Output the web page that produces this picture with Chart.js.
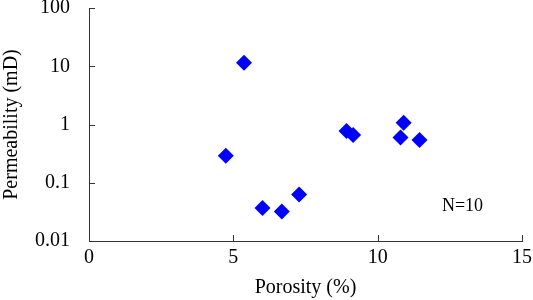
<!DOCTYPE html>
<html>
<head>
<meta charset="utf-8">
<script src="https://cdn.jsdelivr.net/npm/chart.js@4/dist/chart.umd.min.js"></script>
<style>
  html, body { margin: 0; padding: 0; background: #fff; }
  #wrap { width: 533px; height: 300px; }
</style>
</head>
<body>
<div id="wrap"><canvas id="c"></canvas></div>
<script>
// porosity (%) vs permeability (mD)
const porosity = [5.37, 4.74, 6.01, 6.68, 7.28, 8.92, 9.15, 10.9, 10.79, 11.45];
const permeability = [11.5, 0.29, 0.037, 0.032, 0.063, 0.77, 0.66, 1.07, 0.6, 0.54];
const xTicks = [0, 5, 10, 15];
const yTicks = [0.01, 0.1, 1, 10, 100];
const yTickLabels = ["0.01", "0.1", "1", "10", "100"];
const note = { text: "N=10", x: 12.94, y: 0.04 };

const FONT = "'Liberation Serif', 'Times New Roman', serif";
const AXIS = "#333";

// ticks are drawn on the inside of the axes, like the original
const insideTicks = {
    id: "insideTicks",
    afterDraw(chart) {
        const { ctx, chartArea, scales } = chart;
        ctx.save();
        ctx.strokeStyle = AXIS;
        ctx.lineWidth = 1;
        ctx.beginPath();
        xTicks.forEach(v => {
            const px = Math.round(scales.x.getPixelForValue(v)) + 0.5;
            ctx.moveTo(px, chartArea.bottom);
            ctx.lineTo(px, chartArea.bottom - 6);
        });
        yTicks.forEach(v => {
            const py = Math.round(scales.y.getPixelForValue(v)) + 0.5;
            ctx.moveTo(chartArea.left, py);
            ctx.lineTo(chartArea.left + 6, py);
        });
        ctx.stroke();

        ctx.fillStyle = "#000";
        ctx.font = "18px " + FONT;
        ctx.textAlign = "center";
        ctx.textBaseline = "middle";
        ctx.fillText(note.text, scales.x.getPixelForValue(note.x), scales.y.getPixelForValue(note.y));
        ctx.restore();
    }
};

new Chart(document.getElementById("c"), {
    type: "scatter",
    data: {
        datasets: [{
            data: porosity.map((x, i) => ({ x, y: permeability[i] })),
            pointStyle: "rectRot",
            pointRadius: 8,
            pointHoverRadius: 8,
            backgroundColor: "#0000ff",
            borderColor: "#0000ff",
            borderWidth: 0
        }]
    },
    options: {
        responsive: true,
        maintainAspectRatio: false,
        animation: false,
        layout: { padding: { top: 8, right: 11, left: 0, bottom: 0 } },
        plugins: { legend: { display: false }, tooltip: { enabled: false } },
        scales: {
            x: {
                type: "linear",
                min: 0,
                max: 15,
                afterBuildTicks: scale => { scale.ticks = xTicks.map(value => ({ value })); },
                afterFit: scale => {
                    scale.height = 59;
                    scale.paddingLeft = 0;
                    scale.paddingRight = 0;
                },
                grid: { display: false, drawTicks: false, tickLength: 0 },
                border: { display: true, color: AXIS, width: 1 },
                ticks: { color: "#000", padding: 5, maxRotation: 0, font: { family: FONT, size: 20 } },
                title: { display: true, text: "Porosity (%)", color: "#000", padding: 0, font: { family: FONT, size: 20 } }
            },
            y: {
                type: "logarithmic",
                min: 0.01,
                max: 100,
                afterBuildTicks: scale => { scale.ticks = yTicks.map(value => ({ value })); },
                afterFit: scale => {
                    scale.width = 89;
                    scale.paddingTop = 0;
                    scale.paddingBottom = 0;
                },
                grid: { display: false, drawTicks: false, tickLength: 0 },
                border: { display: true, color: AXIS, width: 1 },
                ticks: {
                    color: "#000",
                    padding: 19,
                    font: { family: FONT, size: 20 },
                    callback: (v) => {
                        const i = yTicks.findIndex(t => Math.abs(t - v) < t * 1e-6);
                        return i >= 0 ? yTickLabels[i] : null;
                    }
                },
                title: { display: true, text: "Permeability (mD)", color: "#000", padding: 0, font: { family: FONT, size: 20 } }
            }
        }
    },
    plugins: [insideTicks]
});
</script>
</body>
</html>
